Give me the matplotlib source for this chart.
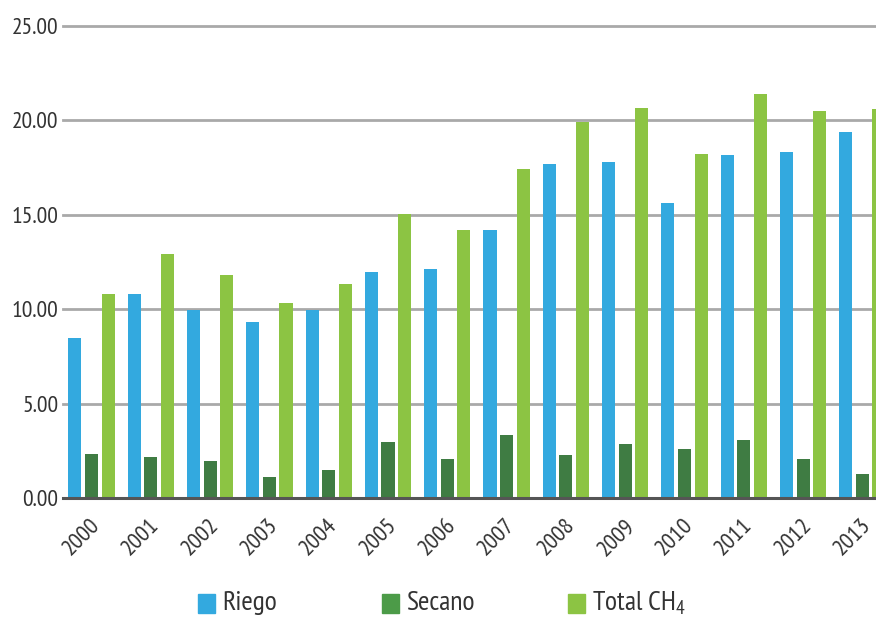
import matplotlib
matplotlib.use("Agg")
import matplotlib.pyplot as plt
import matplotlib.transforms as mtransforms
from matplotlib import font_manager
from matplotlib.patches import Rectangle
import numpy as np

years = ["2000", "2001", "2002", "2003", "2004", "2005", "2006",
         "2007", "2008", "2009", "2010", "2011", "2012", "2013"]
riego = [8.48, 10.81, 9.98, 9.33, 9.96, 11.97, 12.13,
         14.20, 17.69, 17.79, 15.62, 18.16, 18.32, 19.38]
secano = [2.34, 2.18, 1.97, 1.13, 1.50, 2.98, 2.08,
          3.35, 2.29, 2.87, 2.61, 3.08, 2.08, 1.29]
total = [10.81, 12.93, 11.81, 10.33, 11.34, 15.04, 14.20,
         17.42, 19.91, 20.65, 18.22, 21.39, 20.49, 20.60]
yticks = [0, 5, 10, 15, 20, 25]
series_names = ["Riego", "Secano", r"Total CH$_\mathregular{4}$"]

c_blue = "#33a9df"
c_dark = "#3f7c43"
c_dark_leg = "#4c9b48"
c_light = "#8cc443"
txt = "#333333"

available = {f.name for f in font_manager.fontManager.ttflist}
prefs = ["PT Sans Narrow", "Open Sans Condensed", "Roboto Condensed",
         "Barlow Semi Condensed", "Barlow Condensed", "Archivo Narrow",
         "Liberation Sans Narrow"]
chosen = [p for p in prefs if p in available][:1]
FONT = chosen + ["DejaVu Sans"]
plt.rcParams["font.family"] = FONT
plt.rcParams["mathtext.default"] = "regular"

fig = plt.figure(figsize=(8.76, 6.19), dpi=100)
ax = fig.add_axes([63 / 876, (619 - 498.3) / 619, 1 - 63 / 876, 472.3 / 619])

x = np.arange(len(years))
w = 0.22
off = 0.28
ax.bar(x - off, riego, w, color=c_blue, zorder=3)
ax.bar(x, secano, w, color=c_dark, zorder=3)
ax.bar(x + off, total, w, color=c_light, zorder=3)

ax.set_xlim(-0.48, (876 - 91.5) / 59.3)
ax.set_ylim(0, 25)
ax.set_yticks(yticks)
ax.set_yticklabels([f"{v:.2f}" for v in yticks])
for v in yticks[1:]:
    ax.axhline(v, color="#a9a9a9", lw=2.0, zorder=1, clip_on=False)
ax.axhline(0, color="#555555", lw=2.2, zorder=4, clip_on=False)

for s in ax.spines.values():
    s.set_visible(False)

ax.set_xticks(x)
ax.set_xticklabels(years, rotation=45, ha="right", va="top")
ax.tick_params(axis="x", length=0, pad=12, labelsize=17, labelcolor=txt)
ax.tick_params(axis="y", length=0, pad=3.5, labelsize=17, labelcolor=txt)
shift = mtransforms.ScaledTranslation(13 / 100, 0, fig.dpi_scale_trans)
for lab in ax.get_xticklabels():
    lab.set_transform(lab.get_transform() + shift)

# legend
leg_colors = [c_blue, c_dark_leg, c_light]
leg_x = [198, 382, 568]
for name, col, lx in zip(series_names, leg_colors, leg_x):
    fig.patches.append(Rectangle((lx / 876, (619 - 613) / 619), 17 / 876, 19 / 619,
                                 transform=fig.transFigure, color=col, zorder=5))
    fig.text((lx + 24) / 876, (619 - 603) / 619, name, fontsize=20, color=txt,
             va="center", ha="left")

fig.savefig("out.png", dpi=100)
